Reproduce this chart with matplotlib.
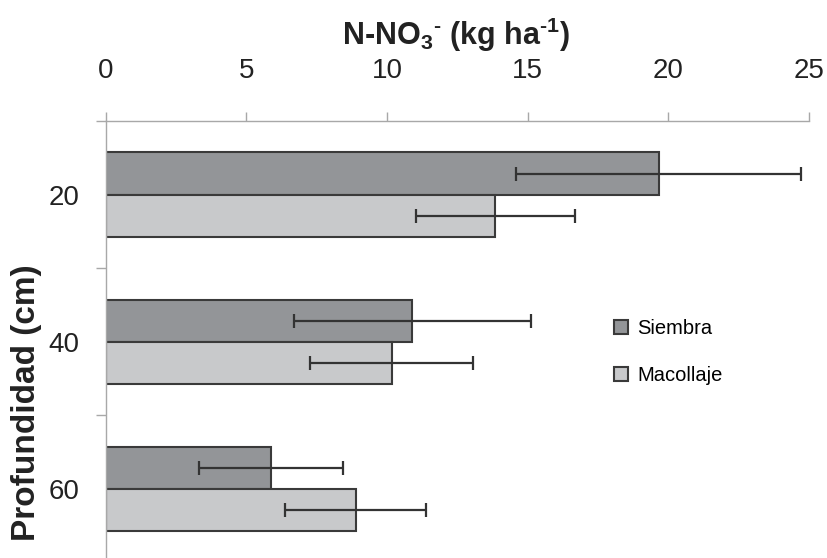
import matplotlib
matplotlib.use('Agg')
import matplotlib.pyplot as plt
import numpy as np

plt.rcParams['font.family'] = ['Liberation Sans', 'DejaVu Sans']
plt.rcParams['mathtext.default'] = 'regular'

depths = ['20', '40', '60']
siembra = [19.65, 10.9, 5.87]
siembra_err = [5.07, 4.2, 2.57]
macollaje = [13.85, 10.16, 8.88]
macollaje_err = [2.83, 2.91, 2.5]

fill_siembra = '#939598'
fill_macollaje = '#c8c9cb'
edge = '#3a3a3a'
axis_gray = '#a8a8a8'

fig = plt.figure(figsize=(8.28, 5.58), dpi=100)
ax = fig.add_axes([0.1277, 0.0, 0.8494, 0.7832])

pos = np.arange(len(depths))
h = 0.286
ax.barh(pos - h / 2, siembra, height=h, color=fill_siembra, edgecolor=edge,
        linewidth=1.5, label='Siembra', zorder=2)
ax.barh(pos + h / 2, macollaje, height=h, color=fill_macollaje, edgecolor=edge,
        linewidth=1.5, label='Macollaje', zorder=2)
ax.errorbar(siembra, pos - h / 2, xerr=siembra_err, fmt='none', ecolor='#333333',
            elinewidth=1.6, capsize=4.9, capthick=1.6, zorder=3)
ax.errorbar(macollaje, pos + h / 2, xerr=macollaje_err, fmt='none', ecolor='#333333',
            elinewidth=1.6, capsize=4.9, capthick=1.6, zorder=3)

ax.set_xlim(0, 25)
ax.set_ylim(2.469, -0.5)
ax.xaxis.tick_top()
ax.set_xticks([0, 5, 10, 15, 20, 25])
ax.tick_params(axis='x', which='major', length=6.5, width=1, color=axis_gray,
               pad=20, labelsize=20, labelcolor='#222222')
ax.set_yticks(pos)
ax.set_yticklabels(depths)
ax.set_yticks([-0.5, 0.5, 1.5], minor=True)
ax.tick_params(axis='y', which='major', length=0, pad=19, labelsize=20,
               labelcolor='#222222')
ax.tick_params(axis='y', which='minor', length=7, width=1, color=axis_gray)

for s in ['right', 'bottom']:
    ax.spines[s].set_visible(False)
for s in ['top', 'left']:
    ax.spines[s].set_color(axis_gray)
    ax.spines[s].set_linewidth(1)

fig.text(0.551, 1 - 35 / 558, 'N-NO$_3$$^{\u2010}$ (kg ha$^{\u20101}$)', ha='center',
         va='center', fontsize=22, fontweight='bold', color='#222222')
fig.text(27 / 828, 1 - 403 / 558, 'Profundidad (cm)', rotation=90, ha='center',
         va='center', fontsize=24, fontweight='bold', color='#222222')

ax.legend(loc='upper left', bbox_to_anchor=(614 / 828, 1 - 319 / 558),
          bbox_transform=fig.transFigure, frameon=False, fontsize=14.5,
          handlelength=0.72, handleheight=0.72, handletextpad=0.45,
          labelspacing=1.38, borderpad=0, borderaxespad=0)

fig.savefig('out.png', dpi=100)
